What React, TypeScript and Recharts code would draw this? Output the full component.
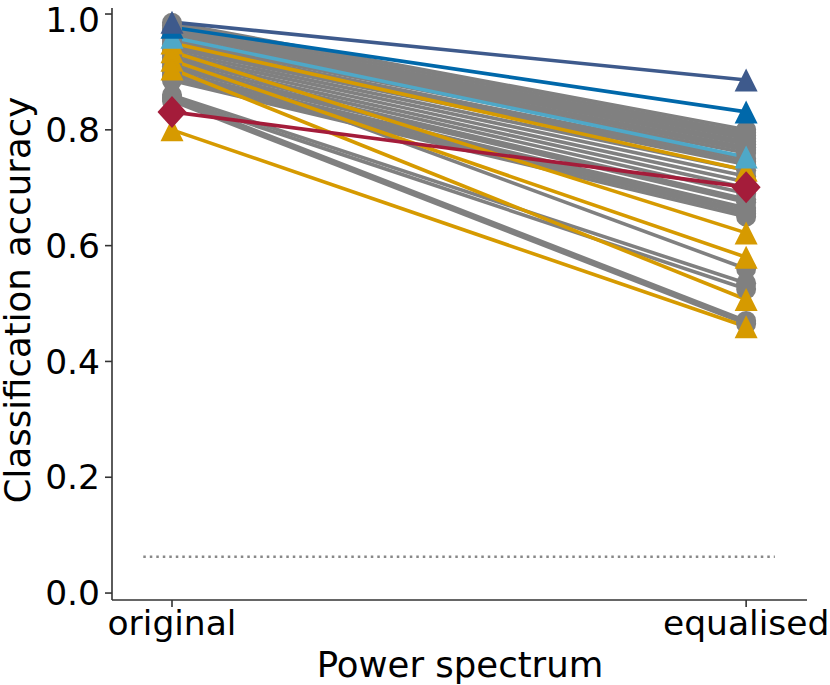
import React from "react";
import { LineChart, Line, XAxis, YAxis, ReferenceLine } from "recharts";

const categories = ["original", "equalised"];
const yTicks = [0, 0.2, 0.4, 0.6, 0.8, 1.0];
const chanceLevel = 1 / 16;

// grey models (circles)
const greyOriginal = [
  0.985, 0.98, 0.975, 0.972, 0.968, 0.965, 0.96, 0.957, 0.952, 0.948, 0.945, 0.94, 0.935,
  0.93, 0.925, 0.92, 0.915, 0.91, 0.905, 0.9, 0.895, 0.89, 0.885, 0.925, 0.86, 0.855, 0.855, 0.85,
];
const greyEqualised = [
  0.8, 0.795, 0.79, 0.785, 0.78, 0.775, 0.77, 0.765, 0.76, 0.75, 0.745, 0.74, 0.73, 0.72,
  0.71, 0.7, 0.69, 0.68, 0.675, 0.665, 0.66, 0.655, 0.65, 0.56, 0.535, 0.525, 0.47, 0.465,
];

// yellow models (triangles)
const yellowOriginal = [0.95, 0.935, 0.92, 0.905, 0.8];
const yellowEqualised = [0.73, 0.622, 0.58, 0.507, 0.46];

// highlighted models
const lightBlueValues = [0.96, 0.753];
const blueValues = [0.977, 0.831];
const darkBlueValues = [0.986, 0.886];
const redValues = [0.831, 0.701];

const GREY = "#808080";
const YELLOW = "#D69A00";
const LIGHT_BLUE = "#4EA8C8";
const BLUE = "#0068AA";
const DARK_BLUE = "#3E5A8C";
const RED = "#A41C3A";

type Series = { key: string; color: string; marker: "circle" | "triangle" | "diamond"; values: number[] };

const series: Series[] = [
  ...greyOriginal.map((v, i) => ({
    key: `grey${i}`,
    color: GREY,
    marker: "circle" as const,
    values: [v, greyEqualised[i]],
  })),
  ...yellowOriginal.map((v, i) => ({
    key: `yellow${i}`,
    color: YELLOW,
    marker: "triangle" as const,
    values: [v, yellowEqualised[i]],
  })),
  { key: "lightBlue", color: LIGHT_BLUE, marker: "triangle", values: lightBlueValues },
  { key: "blue", color: BLUE, marker: "triangle", values: blueValues },
  { key: "darkBlue", color: DARK_BLUE, marker: "triangle", values: darkBlueValues },
  { key: "red", color: RED, marker: "diamond", values: redValues },
];

const data = categories.map((name, i) => {
  const row: Record<string, number | string> = { name, x: i };
  series.forEach((s) => {
    row[s.key] = s.values[i];
  });
  return row;
});

const FONT = "DejaVu Sans";

function makeDot(marker: Series["marker"], color: string) {
  return (props: any) => {
    const { cx, cy, index } = props;
    if (cx == null || cy == null) return <g key={index} />;
    if (marker === "circle") {
      return <circle key={index} cx={cx} cy={cy} r={10} fill={color} />;
    }
    if (marker === "triangle") {
      const h = 11.5;
      return (
        <polygon
          key={index}
          points={`${cx},${cy - h} ${cx - h},${cy + h} ${cx + h},${cy + h}`}
          fill={color}
        />
      );
    }
    return (
      <polygon
        key={index}
        points={`${cx},${cy - 16} ${cx + 14.5},${cy} ${cx},${cy + 16} ${cx - 14.5},${cy}`}
        fill={color}
      />
    );
  };
}

export default function App() {
  return (
    <div style={{ position: "absolute", left: 0, top: 0, fontFamily: FONT }}>
      <LineChart width={830} height={685} data={data} margin={{ top: 8, right: 23, left: 0, bottom: 0 }}>
        <XAxis
          dataKey="x"
          type="number"
          domain={[-0.1045, 1.106]}
          ticks={[0, 1]}
          allowDataOverflow
          tickFormatter={(v) => categories[v] ?? ""}
          height={85}
          stroke="#333"
          strokeWidth={1.6}
          tickSize={7}
          tickMargin={4}
          tick={{ fill: "#000", fontSize: 34.5, fontFamily: FONT }}
          label={{
            content: () => (
              <text x={460} y={677} textAnchor="middle" fontSize={35.5} fontFamily={FONT} fill="#000">
                Power spectrum
              </text>
            ),
          }}
        />
        <YAxis
          type="number"
          domain={[-0.012, 1.0104]}
          ticks={yTicks}
          allowDataOverflow
          tickFormatter={(v) => v.toFixed(1)}
          width={112}
          stroke="#333"
          strokeWidth={1.6}
          tickSize={7}
          tickMargin={5}
          tick={{ fill: "#000", fontSize: 34.5, fontFamily: FONT }}
          label={{
            content: () => (
              <text
                x={30}
                y={300}
                transform="rotate(-90 30 300)"
                textAnchor="middle"
                fontSize={35.5}
                fontFamily={FONT}
                fill="#000"
              >
                Classification accuracy
              </text>
            ),
          }}
        />
        <ReferenceLine
          segment={[
            { x: -0.05, y: chanceLevel },
            { x: 1.05, y: chanceLevel },
          ]}
          stroke="#888"
          strokeWidth={2.5}
          strokeDasharray="2.5 4"
        />
        {series.map((s) => (
          <Line
            key={s.key}
            dataKey={s.key}
            stroke={s.color}
            strokeWidth={3.6}
            dot={makeDot(s.marker, s.color)}
            activeDot={false}
            isAnimationActive={false}
          />
        ))}
      </LineChart>
    </div>
  );
}
